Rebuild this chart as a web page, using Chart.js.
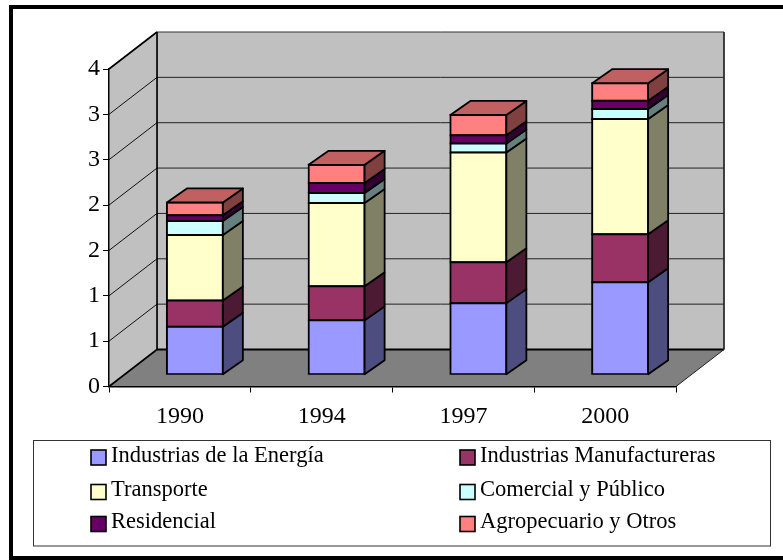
<!DOCTYPE html>
<html>
<head>
<meta charset="utf-8">
<style>html,body{margin:0;padding:0;background:#fff;overflow:hidden}canvas{display:block}</style>
<script src="https://cdn.jsdelivr.net/npm/chart.js@4"></script>
</head>
<body>
<canvas id="c" width="783" height="560"></canvas>
<script>
const categories = ['1990', '1994', '1997', '2000'];
const yTickLabels = ['0', '1', '1', '2', '2', '3', '3', '4'];
const seriesNames = ['Industrias de la Energía', 'Industrias Manufactureras', 'Transporte', 'Comercial y Público', 'Residencial', 'Agropecuario y Otros'];
const energia = [0.53, 0.60, 0.79, 1.02];
const manufactureras = [0.29, 0.375, 0.45, 0.53];
const transporte = [0.72, 0.92, 1.21, 1.27];
const comercial = [0.155, 0.11, 0.10, 0.11];
const residencial = [0.065, 0.11, 0.09, 0.09];
const agropecuario = [0.14, 0.20, 0.225, 0.195];
const seriesValues = [energia, manufactureras, transporte, comercial, residencial, agropecuario];
const frontColors = ['#9999FF', '#993366', '#FFFFCC', '#CCFFFF', '#660066', '#FF8080'];
const sideColors = ['#4D4D80', '#4D1A33', '#808066', '#668080', '#330033', '#804040'];
const topColor = '#C06060';

const FONT = '"Liberation Serif", "Times New Roman", serif';
const WALL_DX = 48, WALL_DY = -37;
const BAR_DX = 15, BAR_DY = -11.7;
const SIDE_DX = 20, SIDE_DY = -14;

function poly(ctx, pts, fill, stroke, lw) {
  ctx.beginPath();
  pts.forEach((p, i) => i ? ctx.lineTo(p[0], p[1]) : ctx.moveTo(p[0], p[1]));
  ctx.closePath();
  if (fill) { ctx.fillStyle = fill; ctx.fill(); }
  if (stroke) { ctx.strokeStyle = stroke; ctx.lineWidth = lw; ctx.stroke(); }
}
function line(ctx, x1, y1, x2, y2, color, lw) {
  ctx.beginPath(); ctx.moveTo(x1, y1); ctx.lineTo(x2, y2);
  ctx.strokeStyle = color; ctx.lineWidth = lw; ctx.stroke();
}

const scene3d = {
  id: 'scene3d',
  beforeDraw(chart) {
    const { ctx, chartArea: a, scales } = chart;
    const L = a.left, R = a.right, T = a.top, B = a.bottom;
    ctx.save();
    ctx.fillStyle = '#fff'; ctx.fillRect(0, 0, chart.width, chart.height);
    // outer frame (open on the right)
    ctx.fillStyle = '#000';
    ctx.fillRect(9, 5, 774, 4);
    ctx.fillRect(9, 5, 4, 555);
    ctx.fillRect(9, 556, 774, 4);
    // back wall, left wall, floor
    poly(ctx, [[L + WALL_DX, T + WALL_DY], [R + WALL_DX, T + WALL_DY], [R + WALL_DX, B + WALL_DY], [L + WALL_DX, B + WALL_DY]], '#C0C0C0', '#333', 1);
    poly(ctx, [[L, T], [L + WALL_DX, T + WALL_DY], [L + WALL_DX, B + WALL_DY], [L, B]], '#C0C0C0');
    poly(ctx, [[L, B], [L + WALL_DX, B + WALL_DY], [R + WALL_DX, B + WALL_DY], [R, B]], '#808080');
    // gridlines on both walls, taken from the value scale
    scales.y.ticks.forEach(t => {
      const y = scales.y.getPixelForValue(t.value);
      if (t.value > 0) {
        line(ctx, L, y, L + WALL_DX, y + WALL_DY, '#111', 1);
        if (t.value < scales.y.max) line(ctx, L + WALL_DX, y + WALL_DY, R + WALL_DX, y + WALL_DY, '#222', 1);
      }
    });
    line(ctx, L, T, L + WALL_DX, T + WALL_DY, '#000', 1.6);
    line(ctx, L + WALL_DX, T + WALL_DY, L + WALL_DX, B + WALL_DY, '#000', 1.6);
    line(ctx, L, B, L + WALL_DX, B + WALL_DY, '#000', 1.6);
    line(ctx, L + WALL_DX, B + WALL_DY, R + WALL_DX, B + WALL_DY, '#000', 2);
    line(ctx, R, B, R + WALL_DX, B + WALL_DY, '#222', 1);
    line(ctx, R + WALL_DX, T + WALL_DY, R + WALL_DX, B + WALL_DY, '#222', 1.4);
    ctx.restore();
  },
  beforeDatasetsDraw(chart) {
    chart.ctx.save();
    chart.ctx.translate(BAR_DX, BAR_DY);
  },
  afterDatasetsDraw(chart) {
    const ctx = chart.ctx;
    ctx.lineJoin = 'round';
    const last = chart.data.datasets.length - 1;
    chart.data.datasets.forEach((ds, di) => {
      chart.getDatasetMeta(di).data.forEach(bar => {
        const xr = bar.x + bar.width / 2, xl = bar.x - bar.width / 2;
        poly(ctx, [[xr, bar.y], [xr + SIDE_DX, bar.y + SIDE_DY], [xr + SIDE_DX, bar.base + SIDE_DY], [xr, bar.base]], sideColors[di], '#000', 1.8);
        if (di === last) {
          poly(ctx, [[xl, bar.y], [xl + SIDE_DX, bar.y + SIDE_DY], [xr + SIDE_DX, bar.y + SIDE_DY], [xr, bar.y]], topColor, '#000', 1.8);
        }
      });
    });
    ctx.restore();
  },
  afterDraw(chart) {
    const ctx = chart.ctx;
    ctx.save();
    // legend box
    ctx.strokeStyle = '#333'; ctx.lineWidth = 1;
    ctx.strokeRect(33.5, 440.5, 737, 105.5);
    const columns = [91, 460], rows = [450, 484.5, 516.5], baselines = [462, 496, 528];
    ctx.font = '22.5px ' + FONT;
    ctx.textBaseline = 'alphabetic';
    ctx.textAlign = 'left';
    seriesNames.forEach((name, i) => {
      const cx = columns[i % 2], r = Math.floor(i / 2);
      ctx.fillStyle = frontColors[i];
      ctx.fillRect(cx, rows[r], 15, 15);
      ctx.strokeStyle = '#000'; ctx.lineWidth = 1.6;
      ctx.strokeRect(cx, rows[r], 15, 15);
      ctx.fillStyle = '#000';
      ctx.fillText(name, cx + 20, baselines[r]);
    });
    ctx.restore();
  }
};

new Chart(document.getElementById('c'), {
  type: 'bar',
  data: {
    labels: categories,
    datasets: seriesNames.map((label, i) => ({
      label,
      data: seriesValues[i],
      backgroundColor: frontColors[i],
      borderColor: '#000',
      borderWidth: 2,
      borderSkipped: false,
      inflateAmount: 1,
      barPercentage: 0.395,
      categoryPercentage: 1
    }))
  },
  options: {
    responsive: false,
    animation: false,
    devicePixelRatio: 1,
    layout: { padding: { left: 0, top: 69, right: 107, bottom: 0 } },
    plugins: { legend: { display: false }, title: { display: false }, tooltip: { enabled: false } },
    scales: {
      x: {
        stacked: true,
        afterFit(s) { s.height = 173.5; },
        grid: { drawOnChartArea: false, drawTicks: true, tickLength: 6, color: '#000', lineWidth: 1 },
        border: { display: true, color: '#000', width: 1.5 },
        ticks: { color: '#000', font: { family: FONT, size: 24 }, padding: 10, maxRotation: 0 }
      },
      y: {
        stacked: true,
        min: 0,
        max: 3.5,
        afterFit(s) { s.width = 109; },
        grid: { drawOnChartArea: false, drawTicks: true, tickLength: 6, color: '#000', lineWidth: 1 },
        border: { display: true, color: '#000', width: 1.5 },
        ticks: {
          stepSize: 0.5,
          color: '#000',
          padding: 3,
          font: { family: FONT, size: 24 },
          callback: (v, i) => yTickLabels[i]
        }
      }
    }
  },
  plugins: [scene3d]
});
</script>
</body>
</html>
